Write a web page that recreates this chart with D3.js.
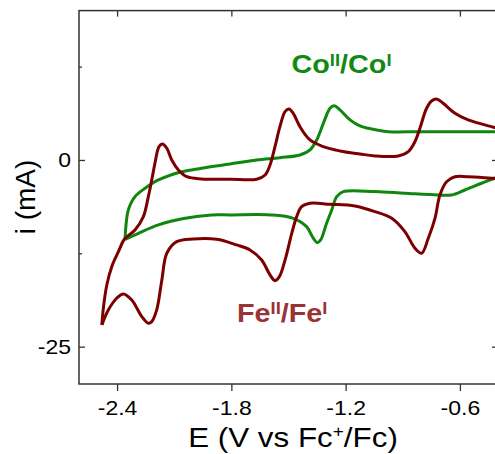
<!DOCTYPE html>
<html>
<head>
<meta charset="utf-8">
<script src="https://cdn.jsdelivr.net/npm/d3@7"></script>
<style>
  body { margin: 0; background: #fff; }
  text { font-family: "Liberation Sans", Arial, sans-serif; }
</style>
</head>
<body>
<div id="chart"></div>
<script>
// ticks
const xTicks = [-2.4, -1.8, -1.2, -0.6];
const yTicks = [0, -25];
const yMinor = [12.5, -12.5];

// Fe complex, scan from -0.4 V to negative, then back ([E V, i mA])
const feCathodic = [[-0.40, -2.45], [-0.416, -2.45], [-0.557, -2.24], [-0.626, -2.24], [-0.670, -2.91], [-0.705, -4.69],
  [-0.731, -7.81], [-0.766, -10.48], [-0.801, -12.49], [-0.836, -11.82], [-0.889, -9.60], [-0.958, -7.81],
  [-1.046, -6.92], [-1.151, -6.16], [-1.282, -5.93], [-1.387, -5.80], [-1.431, -6.25], [-1.457, -7.59],
  [-1.483, -9.82], [-1.518, -13.39], [-1.548, -15.63], [-1.571, -16.16], [-1.597, -15.40], [-1.641, -13.39],
  [-1.702, -12.05], [-1.772, -11.38], [-1.877, -10.62], [-2.000, -10.58], [-2.087, -10.94], [-2.139, -12.49],
  [-2.165, -16.07], [-2.192, -20.08], [-2.218, -21.65], [-2.236, -21.87], [-2.270, -20.98], [-2.323, -18.75],
  [-2.367, -17.94], [-2.402, -18.52], [-2.446, -20.08], [-2.480, -22.09]];
const feAnodic = [[-2.480, -22.09], [-2.472, -19.82], [-2.454, -16.74], [-2.428, -14.29], [-2.393, -12.28],
  [-2.362, -10.62], [-2.306, -9.37], [-2.262, -7.59], [-2.236, -4.91], [-2.218, -2.68], [-2.201, -0.40],
  [-2.180, 1.78], [-2.162, 2.14], [-2.139, 1.57], [-2.113, 0], [-2.078, -1.34], [-2.034, -2.24], [-1.956, -2.54],
  [-1.807, -2.58], [-1.667, -2.58], [-1.623, -2.01], [-1.597, -0.67], [-1.571, 1.78], [-1.545, 4.46],
  [-1.518, 6.47], [-1.497, 6.83], [-1.475, 6.25], [-1.440, 4.46], [-1.387, 2.68], [-1.317, 1.78], [-1.230, 1.21],
  [-1.125, 0.80], [-1.046, 0.54], [-0.924, 0.54], [-0.871, 1.11], [-0.836, 2.45], [-0.810, 4.24], [-0.775, 6.92],
  [-0.749, 7.90], [-0.722, 8.17], [-0.688, 7.59], [-0.626, 6.25], [-0.557, 5.36], [-0.416, 4.33], [-0.40, 4.2]];

// Co complex
const coCathodic = [[-0.40, -2.3], [-0.416, -2.45], [-0.486, -3.12], [-0.574, -4.02], [-0.644, -4.69], [-0.714, -4.69],
  [-0.889, -4.46], [-1.046, -4.24], [-1.212, -4.24], [-1.247, -4.91], [-1.273, -6.70], [-1.300, -8.48],
  [-1.331, -10.71], [-1.349, -11.07], [-1.370, -10.48], [-1.405, -8.93], [-1.475, -7.81], [-1.597, -7.36],
  [-1.807, -7.36], [-1.903, -7.36], [-2.043, -7.81], [-2.183, -8.70], [-2.288, -9.82], [-2.358, -10.62]];
const coAnodic = [[-2.358, -10.62], [-2.354, -8.93], [-2.341, -6.70], [-2.306, -4.91], [-2.253, -3.79],
  [-2.183, -2.68], [-2.060, -1.57], [-1.956, -1.11], [-1.807, -0.54], [-1.667, 0], [-1.545, 0.31], [-1.440, 0.67],
  [-1.387, 1.34], [-1.352, 2.68], [-1.317, 4.91], [-1.282, 6.92], [-1.261, 7.27], [-1.230, 6.70], [-1.177, 5.36],
  [-1.125, 4.55], [-1.081, 4.24], [-0.976, 3.79], [-0.801, 3.79], [-0.416, 3.79], [-0.40, 3.79]];

const W = 495, H = 454;
const mLeft = 79, mRight = 498, mTop = 10.6, mBottom = 384;

const svg = d3.select("#chart").append("svg")
  .attr("width", W).attr("height", H);

const x = d3.scaleLinear().domain([-2.6, -0.4]).range([mLeft, mRight]);
const y = d3.scaleLinear().domain([-30, 20]).range([mBottom, mTop]);

svg.append("clipPath").attr("id", "plot")
  .append("rect").attr("x", mLeft).attr("y", mTop)
  .attr("width", mRight - mLeft).attr("height", mBottom - mTop);

const axisColor = "#333";
const sx = 1.15; // horizontal stretch of the text in the picture

// bottom axis, ticks out
const gx = svg.append("g").attr("transform", `translate(0,${mBottom})`)
  .call(d3.axisBottom(x).tickValues(xTicks).tickSize(7).tickSizeOuter(0).tickFormat(d => d.toFixed(1)));
gx.selectAll("text").attr("font-size", 20).attr("fill", "#000")
  .attr("y", 0).attr("dy", null)
  .attr("transform", `translate(0,31) scale(${sx},1)`);

// top axis, ticks in
svg.append("g").attr("transform", `translate(0,${mTop})`)
  .call(d3.axisTop(x).tickValues(xTicks).tickSize(-6).tickSizeOuter(0).tickFormat(""));

// left axis, ticks in
const gy = svg.append("g").attr("transform", `translate(${mLeft},0)`)
  .call(d3.axisLeft(y).tickValues(yTicks).tickSize(-6).tickSizeOuter(0).tickPadding(8).tickFormat(d => String(d)));
gy.selectAll("text").attr("font-size", 20).attr("fill", "#000")
  .attr("x", 0).attr("dy", "0.35em")
  .attr("transform", `translate(-8,0) scale(${sx},1)`);
svg.append("g").attr("transform", `translate(${mLeft},0)`)
  .call(d3.axisLeft(y).tickValues(yMinor).tickSize(-3).tickSizeOuter(0).tickFormat(""));

// right axis, ticks in
svg.append("g").attr("transform", `translate(${mRight},0)`)
  .call(d3.axisRight(y).tickValues(yTicks).tickSize(-6).tickSizeOuter(0).tickFormat(""));
svg.append("g").attr("transform", `translate(${mRight},0)`)
  .call(d3.axisRight(y).tickValues(yMinor).tickSize(-3).tickSizeOuter(0).tickFormat(""));

svg.selectAll(".domain").remove();
svg.selectAll(".tick line").attr("stroke", axisColor).attr("stroke-width", 1.3);

// frame
svg.append("rect").attr("x", mLeft).attr("y", mTop)
  .attr("width", mRight - mLeft).attr("height", mBottom - mTop)
  .attr("fill", "none").attr("stroke", axisColor).attr("stroke-width", 1.5);

// curves
const line = d3.line().x(d => x(d[0])).y(d => y(d[1])).curve(d3.curveCatmullRom.alpha(0.5));
const curves = svg.append("g").attr("clip-path", "url(#plot)")
  .attr("fill", "none").attr("stroke-width", 3).attr("stroke-linejoin", "round");
[coCathodic, coAnodic].forEach(d => curves.append("path").attr("d", line(d)).attr("stroke", "#0f870f"));
[feCathodic, feAnodic].forEach(d => curves.append("path").attr("d", line(d)).attr("stroke", "#7d0000"));

// axis titles
const xt = svg.append("text").attr("transform", `translate(293,446.5) scale(1.12,1)`)
  .attr("text-anchor", "middle").attr("font-size", 28).attr("fill", "#000");
xt.append("tspan").text("E (V vs Fc");
xt.append("tspan").attr("font-size", 17).attr("dy", -10).text("+");
xt.append("tspan").attr("dy", 10).text("/Fc)");

svg.append("text").attr("transform", "translate(35,197) rotate(-90)")
  .attr("text-anchor", "middle").attr("font-size", 28).attr("fill", "#000").text("i (mA)");

// redox couple labels
function couple(tx, ty, base, color) {
  const t = svg.append("text").attr("transform", `translate(${tx},${ty}) scale(1.15,1)`)
    .attr("font-size", 25).attr("font-weight", "bold").attr("fill", color);
  t.append("tspan").text(base);
  t.append("tspan").attr("font-size", 16).attr("dy", -7.5).text("II");
  t.append("tspan").attr("dy", 7.5).text("/" + base);
  t.append("tspan").attr("font-size", 16).attr("dy", -7.5).text("I");
}
couple(291.5, 73.3, "Co", "#128a12");
couple(237, 321.7, "Fe", "#9a3333");
</script>
</body>
</html>
